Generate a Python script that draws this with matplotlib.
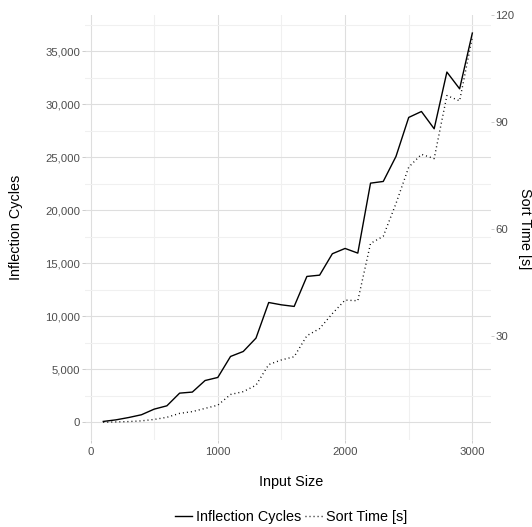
import numpy as np
import matplotlib
matplotlib.use("Agg")
import matplotlib.pyplot as plt
from matplotlib.ticker import MultipleLocator, StrMethodFormatter
from matplotlib.lines import Line2D

plt.rcParams["font.family"] = ["Liberation Sans", "DejaVu Sans"]

input_size = np.arange(100, 3001, 100)
inflection_cycles = [100, 250, 470, 730, 1260, 1575, 2770, 2870, 3960, 4250,
                     6230, 6700, 7960, 11320, 11100, 10950, 13780, 13900, 15920, 16420,
                     15980, 22580, 22740, 25100, 28780, 29340, 27710, 33060, 31480, 36740]
sort_time = [5.7, 5.8, 5.9, 6.1, 6.5, 7.1, 8.2, 8.7, 9.6, 10.5,
             13.5, 14.3, 16.1, 21.9, 23.2, 24.1, 30.0, 32.0, 36.2, 40.0,
             39.8, 55.9, 57.9, 67.1, 77.3, 80.9, 79.7, 97.4, 95.9, 113.8]

INK = "black"
TICK_TEXT = "#4d4d4d"
GRID_MAJOR = "#dedede"
GRID_MINOR = "#f0f0f0"
TICK = "#c4c4c4"
DOTS = (0.7, 2.2)

W, H = 532, 527
fig = plt.figure(figsize=(W / 100, H / 100), dpi=100)
left, right, top, bottom = 84.8, 490.8, 15.0, 440.0
ax = fig.add_axes([left / W, 1 - bottom / H, (right - left) / W, (bottom - top) / H])
ax2 = ax.twinx()

ax.plot(input_size, inflection_cycles, color=INK, linewidth=1.0)
ax2.plot(input_size, sort_time, color=INK, linewidth=1.0, dashes=DOTS)

ax.set_xlim(-45, 3145)
ax.set_ylim(-1651, 38443)
ax2.set_ylim(0.73, 119.88)

ax.xaxis.set_major_locator(MultipleLocator(1000))
ax.xaxis.set_minor_locator(MultipleLocator(500))
ax.yaxis.set_major_locator(MultipleLocator(5000))
ax.yaxis.set_minor_locator(MultipleLocator(2500))
ax.yaxis.set_major_formatter(StrMethodFormatter("{x:,.0f}"))
ax2.set_yticks([30, 60, 90, 120])

ax.grid(which="major", color=GRID_MAJOR, linewidth=0.8)
ax.grid(which="minor", color=GRID_MINOR, linewidth=0.8)
ax.set_axisbelow(True)

for a in (ax, ax2):
    for s in a.spines.values():
        s.set_visible(False)
    a.tick_params(which="major", length=2.2, width=0.6, color=TICK,
                  labelcolor=TICK_TEXT, labelsize=8.2, pad=1.2)
    a.tick_params(which="minor", length=0)
ax.tick_params(axis="x", pad=2.5)

fig.text(291 / W, 1 - 481.7 / H, "Input Size", ha="center", va="center",
         fontsize=10.4, color=INK)
fig.text(16 / W, 1 - 227 / H, "Inflection Cycles", ha="center", va="center",
         rotation=90, fontsize=10.4, color=INK)
fig.text(525 / W, 1 - 229 / H, "Sort Time [s]", ha="center", va="center",
         rotation=-90, fontsize=10.4, color=INK)

handles = [Line2D([], [], color=INK, linewidth=1.0),
           Line2D([], [], color=INK, linewidth=1.0, dashes=DOTS)]
fig.legend(handles, ["Inflection Cycles", "Sort Time [s]"], loc="center",
           bbox_to_anchor=(291 / W, 1 - 517.3 / H), ncol=2, frameon=False,
           fontsize=10.4, handlelength=1.2, handletextpad=0.25, columnspacing=0.3,
           borderpad=0, borderaxespad=0)

fig.savefig("out.png", dpi=100, facecolor="white")
